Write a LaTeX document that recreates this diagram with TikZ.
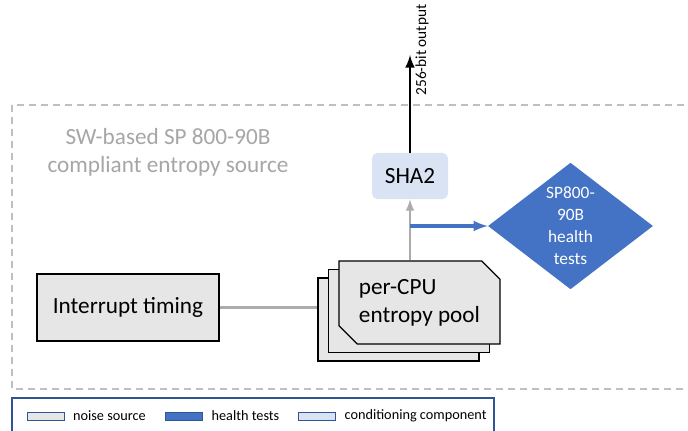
\documentclass[tikz,border=0pt]{standalone}
\usepackage{fontspec}
\setmainfont{Carlito}
\usetikzlibrary{positioning,shapes.geometric,shapes.misc}
\definecolor{noisegrey}{RGB}{231,230,230}
\definecolor{condblue}{RGB}{218,227,243}
\definecolor{testblue}{RGB}{68,114,196}
\definecolor{linegrey}{RGB}{175,171,171}
\definecolor{dashgrey}{RGB}{191,191,191}
\definecolor{titlegrey}{RGB}{166,166,166}
\definecolor{legendblue}{RGB}{47,85,151}

\begin{document}
\begin{tikzpicture}[x=0.75pt,y=-0.75pt,
    big/.style={font=\fontsize{17.4}{21}\selectfont},
    pool/.style={chamfered rectangle, chamfered rectangle corners={north east,south west},
      chamfered rectangle xsep=10.5pt, draw=black, line width=0.9pt, fill=noisegrey,
      minimum width=120.75pt, minimum height=62.25pt, inner sep=0pt},
    legbox/.style={draw=legendblue, line width=0.6pt, minimum width=27.75pt, minimum height=6pt, inner sep=0pt},
    legtext/.style={font=\fontsize{10.7}{12}\selectfont, right=3pt of #1}]
  \useasboundingbox (0,0) rectangle (688,431);
  % the entropy source boundary
  \draw[dashgrey, dashed, line width=0.8pt, dash pattern=on 5.5pt off 3.5pt] (12,105) rectangle (700,389);
  \node[big, titlegrey, align=center] (title) at (168,152) {SW-based SP 800-90B\\compliant entropy source};
  % noise source
  \node[big, draw=black, line width=1pt, fill=noisegrey, minimum width=136.5pt, minimum height=50.25pt] (intr) at (128,307.5) {Interrupt timing};
  % stacked pools, back to front
  \node[pool] (pool3) at (398.5,319.5) {};
  \node[pool] (pool2) at (409,311) {};
  \node[pool, big, align=left] (pool1) at (419.5,302.5) {per-CPU\\entropy pool};
  % conditioning and health tests
  \node[big, fill=condblue, rounded corners=4pt, minimum width=57pt, minimum height=34.5pt] (sha) at (410,176) {SHA2};
  \node[diamond, fill=testblue, text=white, minimum width=123.75pt, minimum height=93.75pt, inner sep=0pt,
    align=center, font=\fontsize{13}{16.5}\selectfont] (tests) at (570.5,226) {SP800-\\90B\\health\\tests};
  \coordinate (out) at (410,55);
  % connectors
  \draw[linegrey, line width=1.9pt] (intr.east) -- (intr.east -| pool3.west);
  \draw[linegrey, line width=1.9pt, -latex] (sha.south |- pool1.north) -- (sha.south);
  \draw[testblue, line width=2.6pt, -latex] (sha.south |- tests.west) -- (tests.west);
  \draw[black, line width=2.2pt, -latex] (sha.north) -- (out);
  \node[rotate=90, font=\fontsize{11.5}{13}\selectfont] (outlabel) at (422,50) {256-bit output};
  % legend
  \draw[legendblue, line width=0.9pt] (12,398) rectangle (494,445);
  \node[legbox, fill=noisegrey] (legnoise) at (45.5,416) {};
  \node[legtext=legnoise] (legnoisetext) {noise source};
  \node[legbox, fill=testblue] (legtest) at (184,416) {};
  \node[legtext=legtest] (legtesttext) {health tests};
  \node[legbox, fill=condblue] (legcond) at (317,416) {};
  \node[legtext=legcond] (legcondtext) {conditioning component};
\end{tikzpicture}
\end{document}
